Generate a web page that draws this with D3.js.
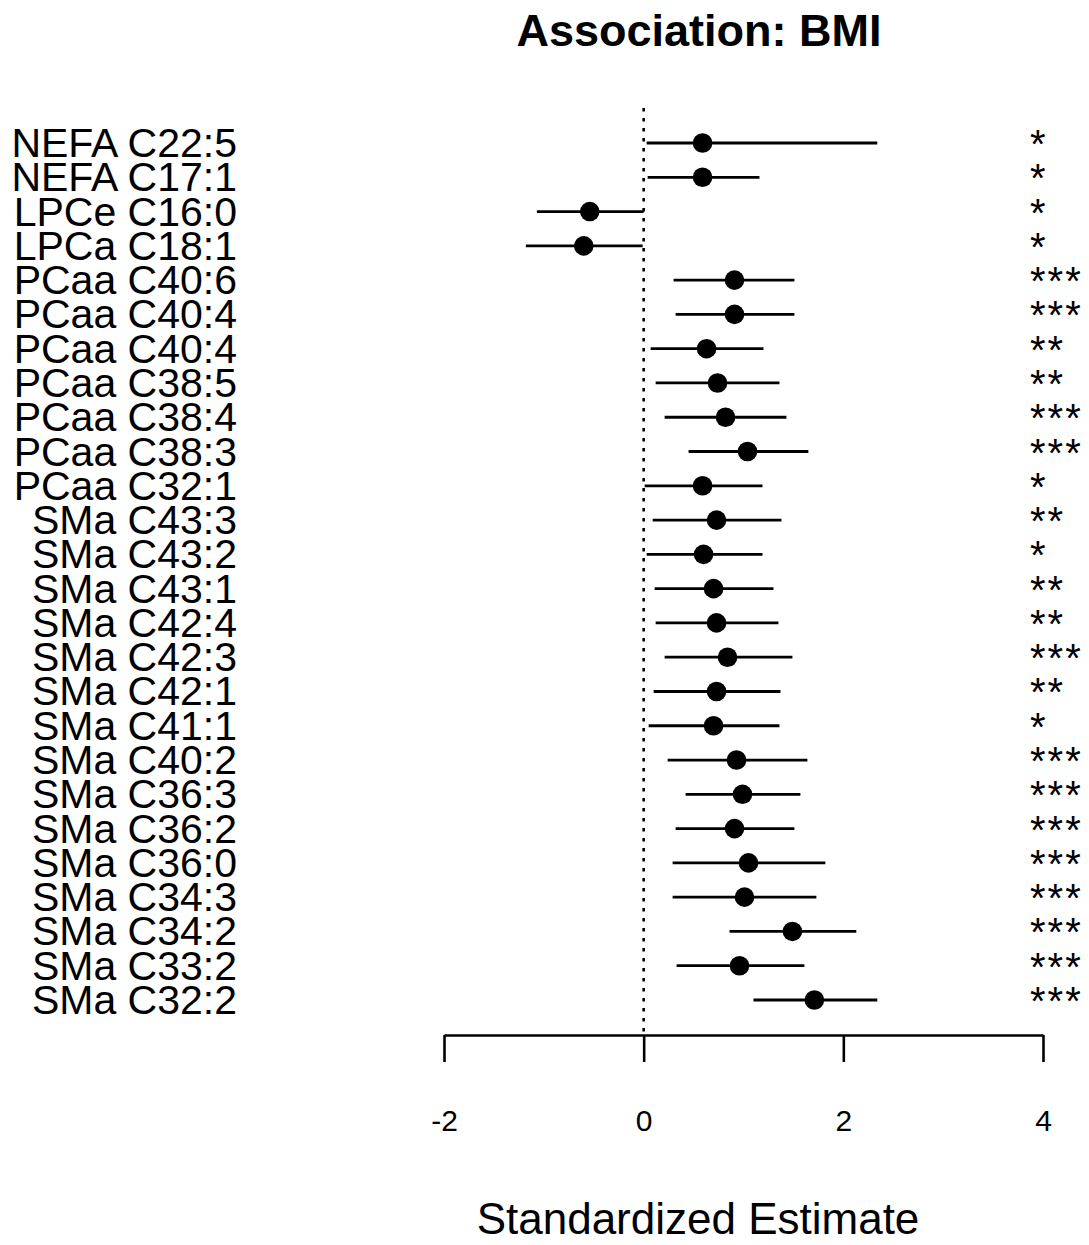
<!DOCTYPE html>
<html>
<head>
<meta charset="utf-8">
<script src="https://cdn.jsdelivr.net/npm/d3@7/dist/d3.min.js"></script>
<style>
    body { margin: 0; background: #fff; }
    text { font-family: "Liberation Sans", Arial, Helvetica, sans-serif; fill: #000; }
</style>
</head>
<body>
<svg id="chart"></svg>
<script>
    //-------------------
    // DATA
    //-------------------
    var labels = ["NEFA C22:5", "NEFA C17:1", "LPCe C16:0", "LPCa C18:1", "PCaa C40:6", "PCaa C40:4",
        "PCaa C40:4", "PCaa C38:5", "PCaa C38:4", "PCaa C38:3", "PCaa C32:1", "SMa C43:3", "SMa C43:2",
        "SMa C43:1", "SMa C42:4", "SMa C42:3", "SMa C42:1", "SMa C41:1", "SMa C40:2", "SMa C36:3",
        "SMa C36:2", "SMa C36:0", "SMa C34:3", "SMa C34:2", "SMa C33:2", "SMa C32:2"];
    var estimates = [0.59, 0.59, -0.54, -0.60, 0.91, 0.91, 0.63, 0.74, 0.82, 1.04, 0.59, 0.73, 0.60,
        0.70, 0.73, 0.84, 0.73, 0.70, 0.93, 0.99, 0.91, 1.05, 1.01, 1.49, 0.96, 1.71];
    var lower = [0.03, 0.04, -1.07, -1.18, 0.30, 0.32, 0.07, 0.12, 0.21, 0.45, 0.01, 0.09, 0.03,
        0.11, 0.12, 0.21, 0.10, 0.05, 0.24, 0.42, 0.32, 0.29, 0.29, 0.86, 0.33, 1.10];
    var upper = [2.34, 1.16, 0.00, -0.01, 1.51, 1.51, 1.20, 1.36, 1.43, 1.65, 1.19, 1.38, 1.19,
        1.30, 1.35, 1.49, 1.37, 1.36, 1.64, 1.57, 1.51, 1.82, 1.73, 2.13, 1.61, 2.34];
    var stars = ["*", "*", "*", "*", "***", "***", "**", "**", "***", "***", "*", "**", "*",
        "**", "**", "***", "**", "*", "***", "***", "***", "***", "***", "***", "***", "***"];
    var xTicks = [-2, 0, 2, 4];

    //-------------------
    // SETUP
    //-------------------
    var width = 1089,
        height = 1245;

    var svg = d3.select("#chart")
        .attr("width", width)
        .attr("height", height);

    var x = d3.scaleLinear().domain([-2, 4]).range([444, 1043]);
    var y = d3.scalePoint().domain(d3.range(labels.length)).range([143, 1000]);
    var axisY = 1035;

    //-------------------
    // TITLE
    //-------------------
    svg.append("text")
        .attr("x", 699)
        .attr("y", 46)
        .attr("text-anchor", "middle")
        .style("font-size", "45px")
        .style("font-weight", "bold")
        .text("Association: BMI");

    //-------------------
    // ZERO LINE
    //-------------------
    svg.append("line")
        .attr("x1", x(0)).attr("x2", x(0))
        .attr("y1", 108).attr("y2", axisY)
        .attr("stroke", "#000")
        .attr("stroke-width", 2.6)
        .attr("stroke-dasharray", "3.5,6.5");

    //-------------------
    // ERROR BARS + POINTS
    //-------------------
    var rows = svg.append("g").selectAll("g.row")
        .data(d3.range(labels.length))
        .enter().append("g")
        .attr("class", "row");

    rows.append("line")
        .attr("x1", function (i) { return x(lower[i]); })
        .attr("x2", function (i) { return x(upper[i]); })
        .attr("y1", function (i) { return y(i); })
        .attr("y2", function (i) { return y(i); })
        .attr("stroke", "#000")
        .attr("stroke-width", 2.8);

    rows.append("circle")
        .attr("cx", function (i) { return x(estimates[i]); })
        .attr("cy", function (i) { return y(i); })
        .attr("r", 9.8)
        .attr("fill", "#000");

    //-------------------
    // ROW LABELS
    //-------------------
    rows.append("text")
        .attr("x", 237)
        .attr("y", function (i) { return y(i) + 14; })
        .attr("text-anchor", "end")
        .style("font-size", "41px")
        .text(function (i) { return labels[i]; });

    //-------------------
    // SIGNIFICANCE STARS
    //-------------------
    rows.append("text")
        .attr("x", 1030)
        .attr("y", function (i) { return y(i) + 15; })
        .style("font-size", "40px")
        .style("letter-spacing", "2px")
        .text(function (i) { return stars[i]; });

    //-------------------
    // X AXIS
    //-------------------
    var xAxis = d3.axisBottom(x)
        .tickValues(xTicks)
        .tickSize(27)
        .tickSizeOuter(0)
        .tickPadding(48)
        .tickFormat(function (d) { return d < 0 ? "-" + Math.abs(d) : String(d); });

    var gx = svg.append("g")
        .attr("transform", "translate(0," + axisY + ")")
        .call(xAxis);
    gx.select(".domain").attr("stroke-width", 2.6);
    gx.selectAll(".tick line").attr("stroke-width", 2.6);
    gx.selectAll(".tick text")
        .style("font-size", "30px")
        .style("font-family", "\"Liberation Sans\", Arial, sans-serif");

    //-------------------
    // X AXIS TITLE
    //-------------------
    svg.append("text")
        .attr("x", 698)
        .attr("y", 1234)
        .attr("text-anchor", "middle")
        .style("font-size", "44px")
        .text("Standardized Estimate");
</script>
</body>
</html>
